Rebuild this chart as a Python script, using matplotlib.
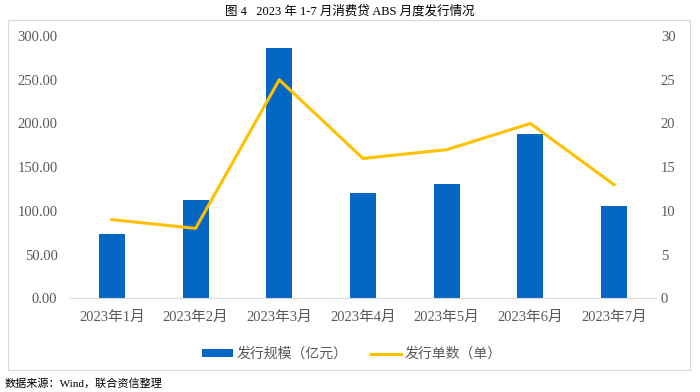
import numpy as np
import matplotlib
matplotlib.use("Agg")
import matplotlib.pyplot as plt
from matplotlib.patches import Rectangle

plt.rcParams['font.family'] = ['Liberation Serif', 'Noto Sans CJK SC', 'DejaVu Sans']

# data
months = ["2023年1月", "2023年2月", "2023年3月", "2023年4月", "2023年5月", "2023年6月", "2023年7月"]
scale = [73.5, 112.5, 286.0, 120.5, 131.0, 188.0, 105.5]   # 发行规模 (亿元)
count = [9, 8, 25, 16, 17, 20, 13]                          # 发行单数 (单)

blue = "#0468C3"
gold = "#FFC000"

fig = plt.figure(figsize=(7, 3.92), dpi=100)
ax = fig.add_axes([0.1, 0.239, 0.837, 0.669])
ax2 = ax.twinx()

x = np.arange(len(months))
ax.bar(x, scale, width=0.31, color=blue, label="发行规模（亿元）", zorder=2)
ax2.plot(x, count, color=gold, lw=2.2, label="发行单数（单）", zorder=3)

ax.set_xlim(-0.5, len(months) - 0.5)
ax.set_ylim(0, 300)
ax.set_yticks(np.arange(0, 301, 50))
ax.set_yticklabels([f"{v:.2f}" for v in np.arange(0, 301, 50)])
ax2.set_ylim(0, 30)
ax2.set_yticks(np.arange(0, 31, 5))

ax.set_xticks(x)
ax.set_xticklabels(months, family=['Liberation Serif', 'Noto Sans CJK SC'])

for a in (ax, ax2):
    for s in ("top", "left", "right"):
        a.spines[s].set_visible(False)
    a.tick_params(length=0, labelsize=10.5, colors="#595959")
ax2.spines["bottom"].set_visible(False)
ax.spines["bottom"].set_color("#D9D9D9")
ax.tick_params(axis="x", pad=9)
ax.tick_params(axis="y", pad=9)
ax2.tick_params(axis="y", pad=3.5)
ax2.set_zorder(ax.get_zorder() + 1)

# outer frame
fig.patches.append(Rectangle((8 / 700, 1 - 370 / 392), 682 / 700, 350 / 392,
                             transform=fig.transFigure, fill=False,
                             edgecolor="#D9D9D9", lw=0.8))

h1, l1 = ax.get_legend_handles_labels()
h2, l2 = ax2.get_legend_handles_labels()
leg = fig.legend(h1 + h2, l1 + l2, loc="center", bbox_to_anchor=(0.503, 1 - 354 / 392),
                 ncol=2, frameon=False, handlelength=2.2, handleheight=0.45,
                 columnspacing=1.7, handletextpad=0.25,
                 prop={'family': 'Noto Sans CJK SC', 'size': 10})
for t in leg.get_texts():
    t.set_color("#595959")

fig.text(0.5, 1 - 11 / 392, "图 4   2023 年 1-7 月消费贷 ABS 月度发行情况",
         ha="center", va="center", fontsize=9,
         family=['Liberation Serif', 'Noto Sans CJK SC'])
fig.text(5 / 700, 1 - 383 / 392, "数据来源：Wind，联合资信整理",
         ha="left", va="center", fontsize=8,
         family=['Liberation Serif', 'Noto Sans CJK SC'])

fig.savefig("out.png", dpi=100)
